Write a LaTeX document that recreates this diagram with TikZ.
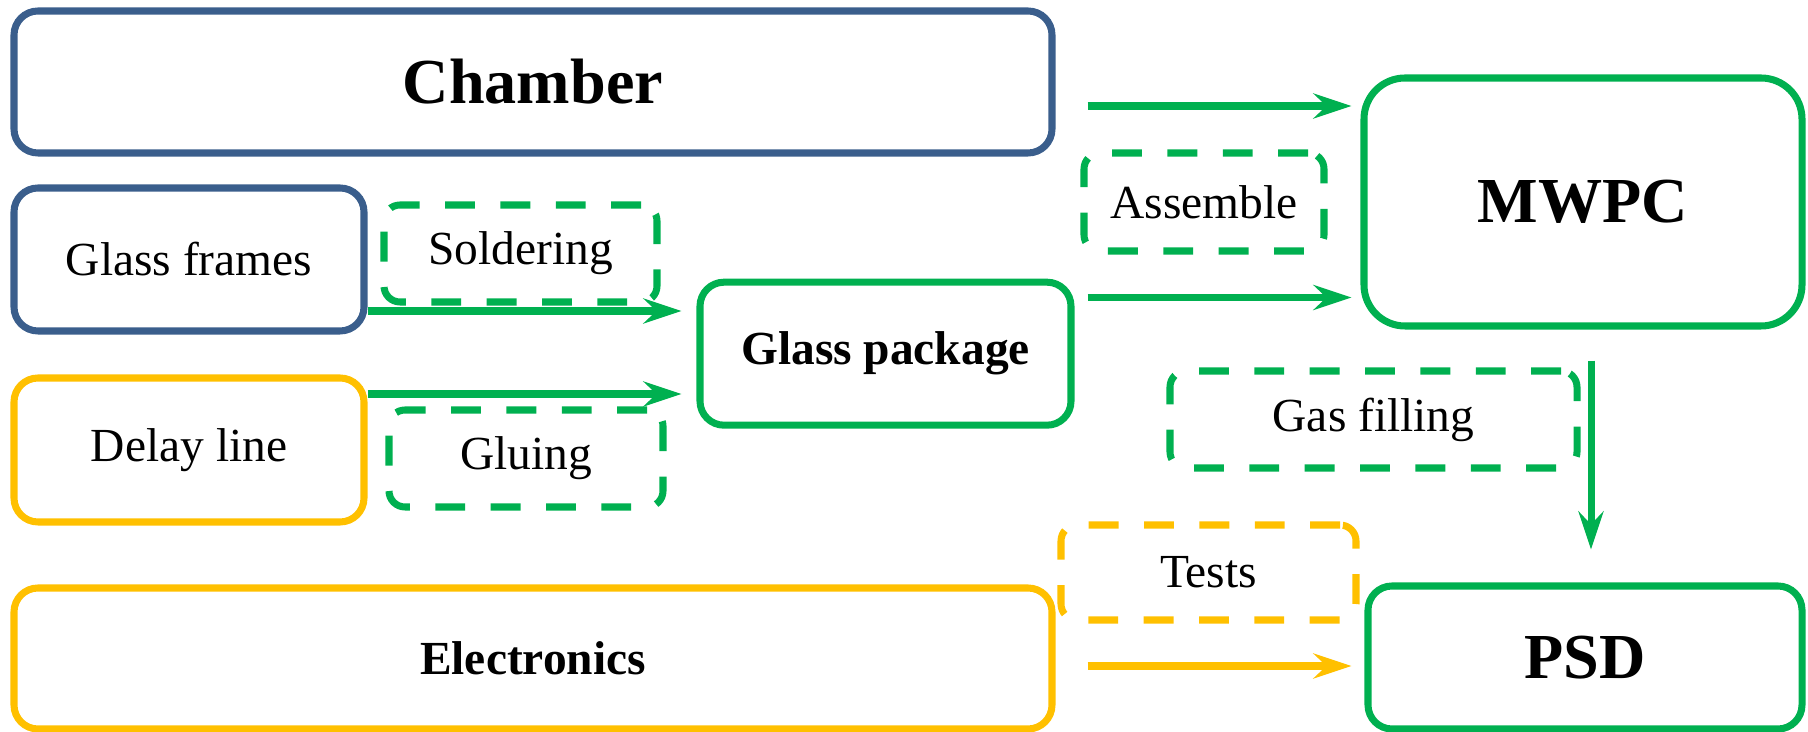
\documentclass[tikz,border=0pt]{standalone}
\usepackage{fontspec}
\setmainfont{Liberation Serif}
\usetikzlibrary{arrows.meta, calc}
\definecolor{frameblue}{HTML}{3A5E8C}
\definecolor{stepgreen}{HTML}{00B050}
\definecolor{partgold}{HTML}{FFC000}
\newcommand{\bigfont}{\fontsize{36.5}{44}\selectfont\bfseries}
\newcommand{\midfont}{\fontsize{27}{32}\selectfont}

\begin{document}
\begin{tikzpicture}[line width=4pt,
  part/.style={draw, line width=4pt, rounded corners=0.48cm, inner sep=0pt, align=center},
  process/.style={draw, line width=4pt, rounded corners=0.32cm, dash pattern=on 17pt off 14.5pt,
    inner sep=0pt, align=center, font=\midfont},
  flow/.style={-{Stealth[length=0.76cm, width=0.5cm, inset=0.26cm]}, line width=4pt}]

% Canvas
\useasboundingbox (0,0) rectangle (36.16,14.64);

% --- Parts (solid boxes) ---
\node[part, draw=frameblue, minimum width=20.76cm, minimum height=2.84cm, font=\bigfont]
  (chamber) at (10.66,13.0) {Chamber};
\node[part, draw=frameblue, minimum width=7.0cm, minimum height=2.86cm, font=\midfont]
  (frames) at (3.78,9.45) {Glass frames};
\node[part, draw=partgold, minimum width=7.0cm, minimum height=2.88cm, font=\midfont]
  (delay) at (3.78,5.64) {Delay line};
\node[part, draw=partgold, minimum width=20.76cm, minimum height=2.82cm, font=\midfont\bfseries]
  (electronics) at (10.66,1.47) {Electronics};
\node[part, draw=stepgreen, minimum width=7.42cm, minimum height=2.86cm, font=\midfont\bfseries]
  (package) at (17.71,7.566) {Glass package};
\node[part, draw=stepgreen, rounded corners=0.82cm, minimum width=8.76cm, minimum height=4.96cm, font=\bigfont]
  (mwpc) at (31.66,10.6) {MWPC};
\node[part, draw=stepgreen, minimum width=8.68cm, minimum height=2.86cm, font=\bigfont]
  (psd) at (31.7,1.49) {PSD};

% --- Process steps (dashed boxes) ---
\node[process, draw=stepgreen, minimum width=5.46cm, minimum height=1.94cm]
  (soldering) at (10.41,9.57) {Soldering};
\node[process, draw=stepgreen, minimum width=5.48cm, minimum height=1.94cm]
  (gluing) at (10.52,5.47) {Gluing};
\node[process, draw=stepgreen, minimum width=4.8cm, minimum height=1.96cm]
  (assemble) at (24.08,10.6) {Assemble};
\node[process, draw=stepgreen, minimum width=8.14cm, minimum height=1.94cm]
  (gasfill) at (27.47,6.25) {Gas filling};
\node[process, draw=partgold, minimum width=5.9cm, minimum height=1.9cm]
  (tests) at (24.17,3.19) {Tests};

% --- Arrow start points ---
\coordinate (chamberout) at ([xshift=0.64cm, yshift=-0.48cm]chamber.east);
\coordinate (packageout) at ([xshift=0.26cm, yshift=1.124cm]package.east);
\coordinate (framesout) at ([yshift=-1.03cm]frames.east);
\coordinate (delayout) at ([yshift=1.12cm]delay.east);
\coordinate (mwpcout) at ([xshift=0.16cm]mwpc.south);
\coordinate (electronicsout) at ([xshift=0.64cm, yshift=-0.15cm]electronics.east);

% --- Arrows ---
\draw[flow, stepgreen, shorten >=0.18cm] (chamberout) -- (chamberout -| mwpc.west);
\draw[flow, stepgreen, shorten >=0.18cm] (packageout) -- (packageout -| mwpc.west);
\draw[flow, stepgreen, shorten >=0.3cm] (framesout) -- (framesout -| package.west);
\draw[flow, stepgreen, shorten >=0.3cm] (delayout) -- (delayout -| package.west);
\draw[flow, stepgreen, shorten <=0.62cm, shorten >=0.66cm] (mwpcout) -- (mwpcout |- psd.north);
\draw[flow, partgold, shorten >=0.26cm] (electronicsout) -- (electronicsout -| psd.west);

\end{tikzpicture}
\end{document}
